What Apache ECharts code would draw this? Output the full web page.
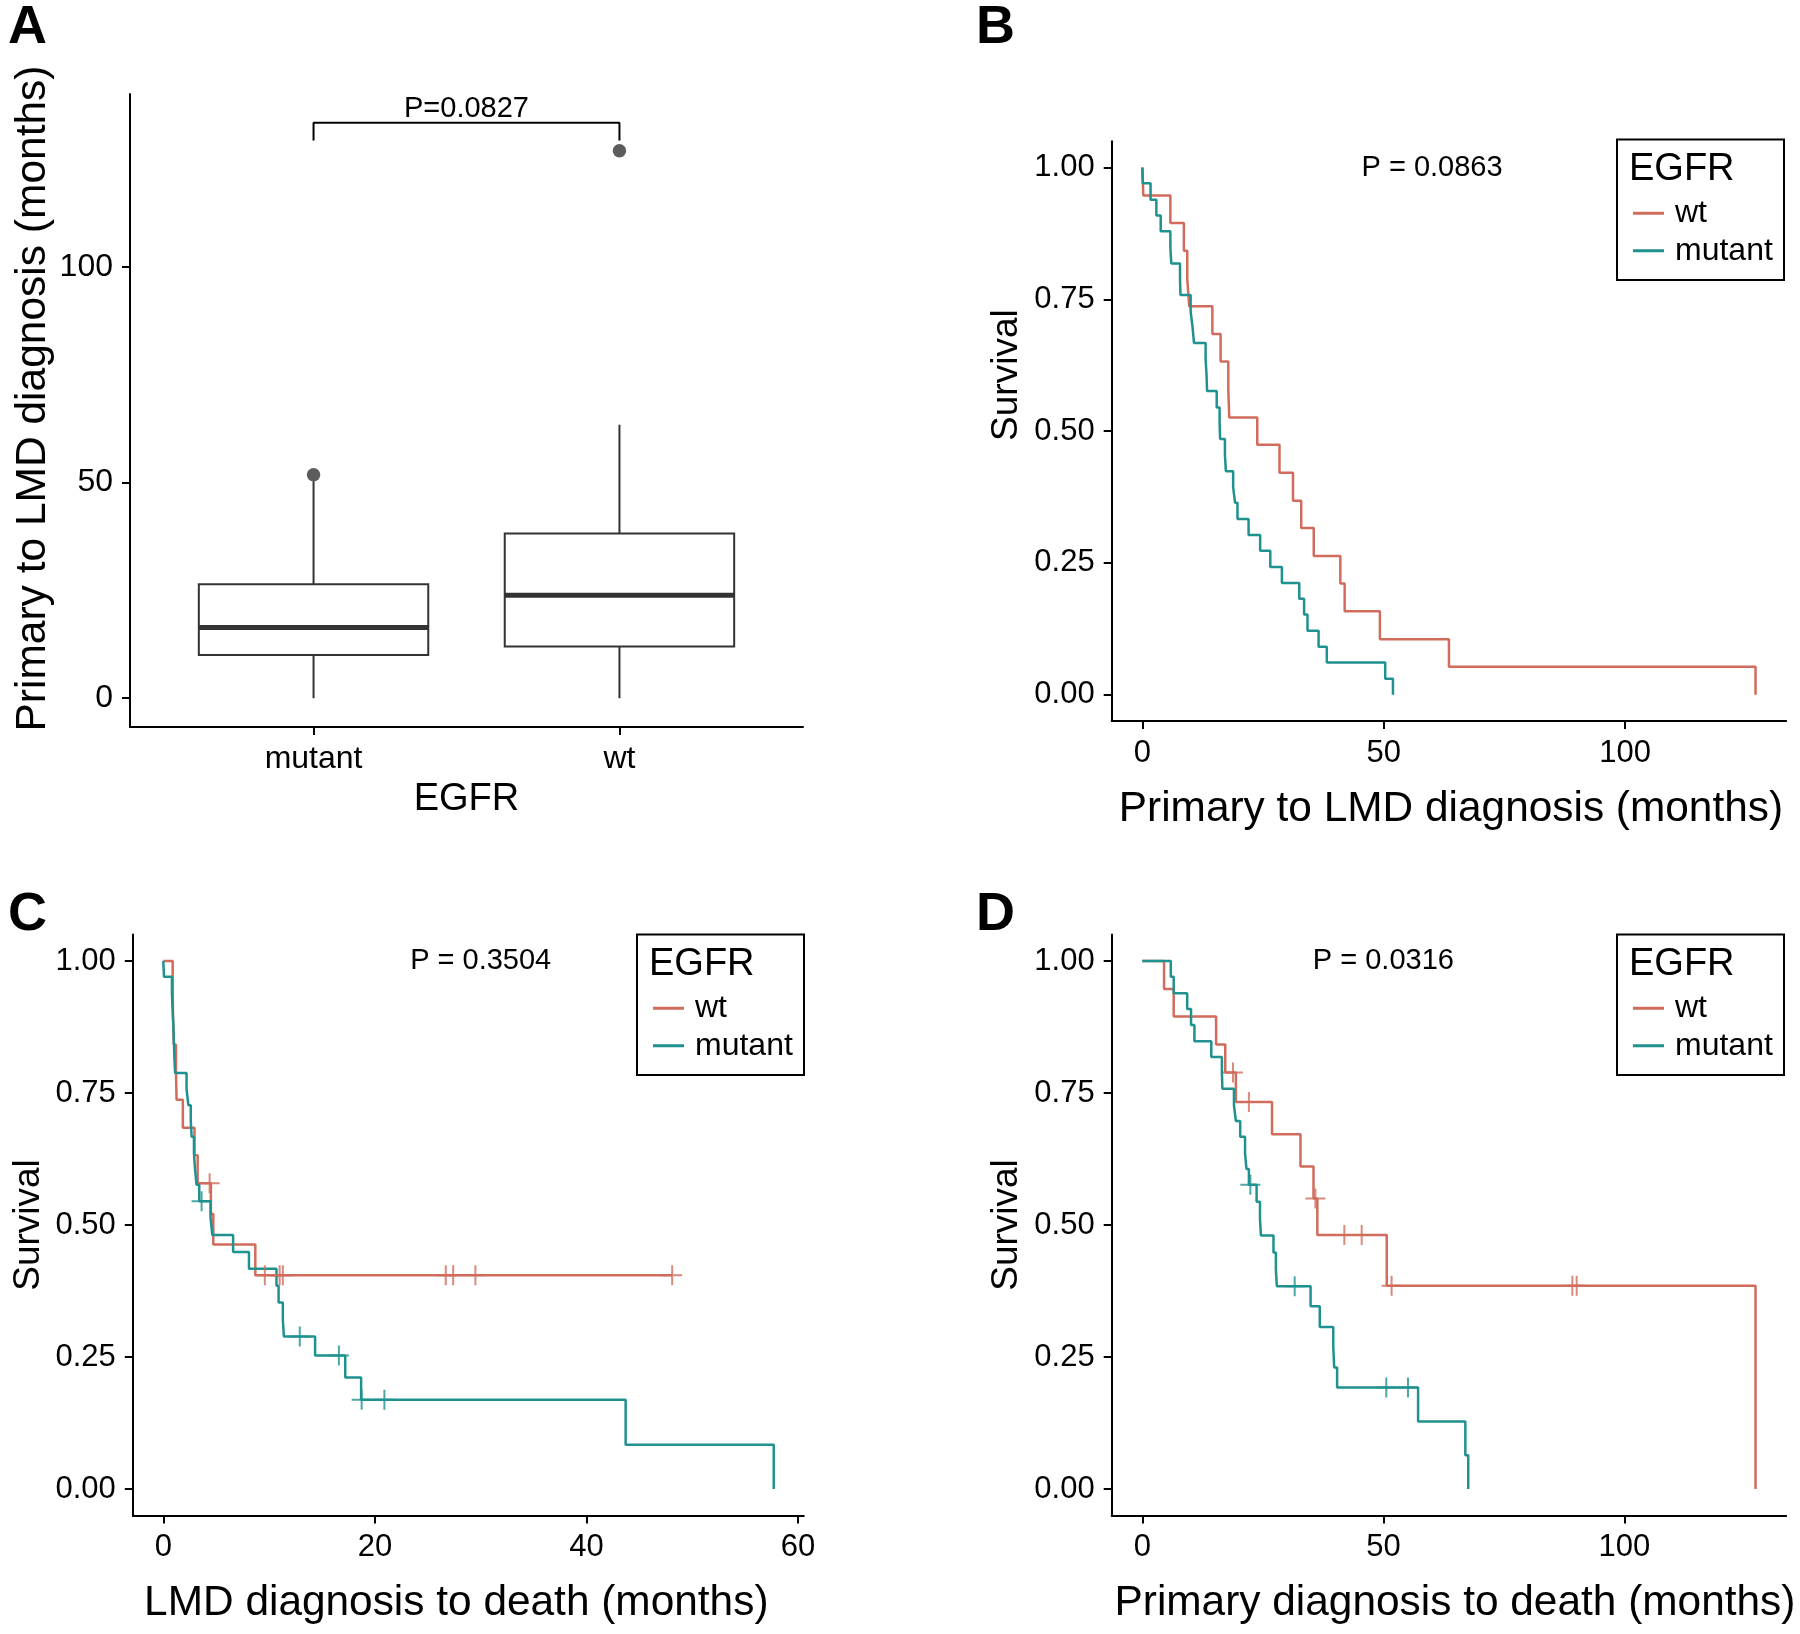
<!DOCTYPE html>
<html>
<head>
<meta charset="utf-8">
<script src="https://cdn.jsdelivr.net/npm/echarts@6/dist/echarts.min.js"></script>
<style>
html,body{margin:0;padding:0;background:#ffffff;}
#chart{width:1800px;height:1634px;}
</style>
</head>
<body>
<div id="chart"></div>
<script>
// ---------------- Panel A: box plot ----------------
const boxCategories = ['mutant', 'wt'];
const boxLowerWhisker = [0, 0];
const boxQ1 = [10.0, 12.0];
const boxMedian = [16.4, 23.9];
const boxQ3 = [26.4, 38.2];
const boxUpperWhisker = [50.3, 63.4];
const outlierCategory = [1, 2];
const outlierValue = [51.8, 126.9];
const bracketLegLow = 129.3;
const bracketTop = 133.4;
const pTextA = 'P=0.0827';
const pPosA = [1.5, 136.7];
const yTicksA = [0, 50, 100];

// ---------------- Panel B: primary to LMD ----------------
const bWtTime = [0, 0.2, 5.8, 8.6, 9.3, 9.7, 14.5, 16.2, 17.8, 18.0, 23.8, 28.4, 31.2, 32.9, 35.5, 41.0, 41.9, 49.2, 63.5, 127.0];
const bWtSurv = [1, 0.947, 0.895, 0.842, 0.789, 0.737, 0.684, 0.632, 0.579, 0.526, 0.474, 0.421, 0.368, 0.316, 0.263, 0.211, 0.158, 0.105, 0.053, 0];
const bMutTime = [0, 0.1, 1.7, 2.9, 3.8, 5.8, 6.0, 7.8, 7.9, 10.0, 10.4, 10.7, 13.1, 13.3, 13.4, 15.4, 16.0, 16.1, 17.1, 17.3, 18.8, 19.2, 19.7, 22.0, 24.4, 26.5, 28.9, 32.5, 33.5, 34.2, 36.5, 38.2, 50.3, 51.9];
const bMutSurv = [1, 0.970, 0.939, 0.909, 0.879, 0.848, 0.818, 0.788, 0.758, 0.727, 0.697, 0.667, 0.636, 0.606, 0.576, 0.545, 0.515, 0.485, 0.455, 0.424, 0.394, 0.364, 0.333, 0.303, 0.273, 0.242, 0.212, 0.182, 0.152, 0.121, 0.091, 0.061, 0.030, 0];
const pTextB = 'P = 0.0863';
const pPosB = [60, 1.0];

// ---------------- Panel C: LMD to death ----------------
const cWtTime = [0, 0.89, 0.92, 1.0, 1.2, 1.26, 1.85, 2.95, 3.25, 4.5, 4.73, 8.7, 48.1];
const cWtSurv = [1, 0.947, 0.895, 0.842, 0.789, 0.737, 0.684, 0.632, 0.579, 0.521, 0.463, 0.405, 0.405];
const cWtCensorTime = [4.38, 9.6, 11.0, 11.3, 26.7, 27.4, 29.5, 48.1];
const cWtCensorSurv = [0.579, 0.405, 0.405, 0.405, 0.405, 0.405, 0.405, 0.405];
const cMutTime = [0, 0.07, 0.82, 0.88, 0.95, 1.0, 1.05, 1.12, 2.2, 2.37, 2.6, 2.68, 2.9, 3.0, 3.15, 3.4, 4.47, 4.64, 6.6, 8.1, 10.7, 10.9, 11.3, 11.4, 14.35, 17.2, 18.7, 43.7, 57.7];
const cMutSurv = [1, 0.970, 0.939, 0.909, 0.879, 0.848, 0.818, 0.788, 0.758, 0.727, 0.697, 0.667, 0.636, 0.606, 0.576, 0.545, 0.513, 0.481, 0.449, 0.417, 0.385, 0.353, 0.321, 0.289, 0.253, 0.211, 0.169, 0.084, 0];
const cMutCensorTime = [3.62, 12.9, 16.6, 18.75, 20.9];
const cMutCensorSurv = [0.545, 0.289, 0.253, 0.169, 0.169];
const pTextC = 'P = 0.3504';
const pPosC = [30, 1.0];

// ---------------- Panel D: primary to death ----------------
const dWtTime = [0, 4.5, 6.5, 15.3, 17.2, 19.4, 26.9, 32.8, 35.5, 36.3, 50.7, 127.2];
const dWtSurv = [1, 0.947, 0.895, 0.842, 0.789, 0.733, 0.672, 0.611, 0.550, 0.481, 0.385, 0];
const dWtCensorTime = [18.8, 22.1, 35.9, 41.9, 45.5, 51.7, 89.2, 90.1];
const dWtCensorSurv = [0.789, 0.733, 0.550, 0.481, 0.481, 0.385, 0.385, 0.385];
const dMutTime = [0, 5.9, 6.5, 9.3, 10.1, 10.8, 14.3, 16.5, 16.6, 19.0, 19.4, 20.3, 21.3, 21.6, 22.1, 23.7, 24.4, 24.6, 27.2, 27.7, 27.9, 34.9, 36.8, 39.6, 39.8, 40.4, 57.2, 67.0, 67.6];
const dMutSurv = [1, 0.970, 0.939, 0.909, 0.879, 0.848, 0.818, 0.788, 0.758, 0.727, 0.697, 0.667, 0.636, 0.606, 0.576, 0.544, 0.512, 0.480, 0.448, 0.416, 0.384, 0.346, 0.307, 0.269, 0.230, 0.192, 0.128, 0.064, 0];
const dMutCensorTime = [22.4, 31.6, 50.6, 55.1];
const dMutCensorSurv = [0.576, 0.384, 0.192, 0.192];
const pTextD = 'P = 0.0316';
const pPosD = [50, 1.0];

const survTicks = [0, 0.25, 0.5, 0.75, 1];
const xTicksLong = [0, 50, 100];
const xTicksC = [0, 20, 40, 60];
const groupNames = ['wt', 'mutant'];
const legendTitle = 'EGFR';

// ---------------- styling ----------------
const FONT = '"Liberation Sans", Arial, Helvetica, sans-serif';
const RED = '#D16C5C';
const TEAL = '#1F918F';
const BOXC = '#333333';
const PLUS = 'path://M9,0h2v9h9v2h-9v9h-2v-9h-9v-2h9z';

function pairs(xs, ys) { return xs.map((x, i) => [x, ys[i]]); }

function axisBase(extra) {
  return Object.assign({
    type: 'value',
    splitLine: { show: false },
    axisLine: { show: true, onZero: false, lineStyle: { color: '#000', width: 2 } }
  }, extra);
}
function xAx(grid, min, max, ticks, name, nameSize, nameGap, labelSize, margin, namePad, fmt) {
  const a = axisBase({ gridIndex: grid, min: min, max: max, name: name, nameLocation: 'middle', nameGap: nameGap });
  a.nameTextStyle = { color: '#000', fontFamily: FONT, fontSize: nameSize, padding: namePad || 0 };
  a.axisTick = { show: true, length: 8, customValues: ticks, lineStyle: { color: '#000', width: 2 } };
  a.axisLabel = { customValues: ticks, fontSize: labelSize, color: '#000', fontFamily: FONT, margin: margin };
  if (fmt) a.axisLabel.formatter = fmt;
  return a;
}
function yAx(grid, min, max, ticks, name, nameSize, nameGap, labelSize, fmt, shift) {
  const a = axisBase({ gridIndex: grid, min: min, max: max, name: name, nameLocation: 'middle', nameGap: nameGap });
  a.nameTextStyle = { color: '#000', fontFamily: FONT, fontSize: nameSize, padding: [0, 0, 0, shift || 0] };
  a.axisTick = { show: true, length: 8, customValues: ticks, lineStyle: { color: '#000', width: 2 } };
  a.axisLabel = { customValues: ticks, fontSize: labelSize, color: '#000', fontFamily: FONT, margin: 17 };
  if (fmt) a.axisLabel.formatter = fmt;
  return a;
}
const survFmt = v => v.toFixed(2);

function kmLine(idx, name, color, xs, ys) {
  return {
    type: 'line', name: name, xAxisIndex: idx, yAxisIndex: idx,
    data: pairs(xs, ys), step: 'end', symbol: 'none', showSymbol: false,
    lineStyle: { color: color, width: 2.5 }, itemStyle: { color: color },
    silent: true, z: 3
  };
}
function censor(idx, name, color, xs, ys) {
  return {
    type: 'scatter', name: name, xAxisIndex: idx, yAxisIndex: idx,
    data: pairs(xs, ys), symbol: PLUS, symbolSize: 20,
    itemStyle: { color: color }, silent: true, z: 4
  };
}

const boxData = boxCategories.map((c, i) => [i + 1, boxLowerWhisker[i], boxQ1[i], boxMedian[i], boxQ3[i], boxUpperWhisker[i]]);

const boxSeries = {
  type: 'custom', xAxisIndex: 0, yAxisIndex: 0,
  dimensions: ['x', 'lo', 'q1', 'med', 'q3', 'hi'],
  encode: { x: 0, y: [1, 2, 3, 4, 5] },
  data: boxData,
  renderItem: function (params, api) {
    const x = api.value(0);
    const lo = api.coord([x, api.value(1)]);
    const q1 = api.coord([x, api.value(2)]);
    const med = api.coord([x, api.value(3)]);
    const q3 = api.coord([x, api.value(4)]);
    const hi = api.coord([x, api.value(5)]);
    const half = api.size([0.75, 0])[0] / 2;
    const ls = { stroke: BOXC, lineWidth: 2, fill: null };
    return {
      type: 'group', children: [
        { type: 'line', shape: { x1: lo[0], y1: lo[1], x2: q1[0], y2: q1[1] }, style: ls },
        { type: 'line', shape: { x1: q3[0], y1: q3[1], x2: hi[0], y2: hi[1] }, style: ls },
        { type: 'rect', shape: { x: q3[0] - half, y: q3[1], width: 2 * half, height: q1[1] - q3[1] }, style: { fill: '#fff', stroke: BOXC, lineWidth: 2 } },
        { type: 'line', shape: { x1: med[0] - half, y1: med[1], x2: med[0] + half, y2: med[1] }, style: { stroke: BOXC, lineWidth: 5 } }
      ]
    };
  },
  silent: true, z: 2
};

const outlierSeries = {
  type: 'scatter', xAxisIndex: 0, yAxisIndex: 0,
  data: pairs(outlierCategory, outlierValue),
  symbol: 'circle', symbolSize: 13.5, itemStyle: { color: BOXC }, silent: true, z: 3
};
const bracketSeries = {
  type: 'line', xAxisIndex: 0, yAxisIndex: 0,
  data: [[1, bracketLegLow], [1, bracketTop], [2, bracketTop], [2, bracketLegLow]],
  symbol: 'none', lineStyle: { color: '#000', width: 2 }, silent: true, z: 3
};

function legendFor(left, top) {
  return {
    left: left, top: top, orient: 'vertical', data: groupNames,
    icon: 'rect', itemWidth: 31, itemHeight: 3, itemGap: 0, padding: 0,
    selectedMode: false,
    textStyle: { fontSize: 32, color: '#000', fontFamily: FONT, lineHeight: 37.5, padding: [0, 0, 0, 6] }
  };
}
function legendBox(x, y) {
  return [
    { type: 'rect', shape: { x: x, y: y, width: 167, height: 140.5 }, style: { fill: 'none', stroke: '#000', lineWidth: 2 }, z: 10 },
    { type: 'text', x: x + 12, y: y + 30.5, style: { text: legendTitle, fontSize: 38, fontFamily: FONT, fill: '#000', align: 'left', verticalAlign: 'middle' }, z: 10 }
  ];
}
function panelLetter(txt, x, y) {
  return { type: 'text', x: x, y: y, style: { text: txt, fontSize: 54, fontWeight: 'bold', fontFamily: FONT, fill: '#000', align: 'left', verticalAlign: 'middle' }, z: 10 };
}

const option = {
  animation: false,
  backgroundColor: '#ffffff',
  textStyle: { fontFamily: FONT },
  grid: [
    { left: 130, top: 94, width: 673, height: 633, outerBoundsMode: 'none' },
    { left: 1111.7, top: 141.2, width: 674.5, height: 579.8, outerBoundsMode: 'none' },
    { left: 132.8, top: 934.6, width: 671, height: 580.8, outerBoundsMode: 'none' },
    { left: 1111.7, top: 934.6, width: 674.5, height: 580.8, outerBoundsMode: 'none' }
  ],
  xAxis: [
    xAx(0, 0.4, 2.6, [1, 2], 'EGFR', 38, 54, 32, 16, 0, v => boxCategories[Math.round(v) - 1]),
    xAx(1, -6.35, 133.35, xTicksLong, 'Primary to LMD diagnosis (months)', 42.4, 67, 31, 17, [0, 0, 0, 4]),
    xAx(2, -2.88, 60.54, xTicksC, 'LMD diagnosis to death (months)', 42.4, 67, 31, 17, [0, 24, 0, 0]),
    xAx(3, -6.36, 133.56, xTicksLong, 'Primary diagnosis to death (months)', 42.4, 67, 31, 17, [0, 0, 0, 12])
  ],
  yAxis: [
    yAx(0, -6.67, 140.07, yTicksA, 'Primary to LMD diagnosis (months)', 42.5, 75, 32, null, 24),
    yAx(1, -0.05, 1.05, survTicks, 'Survival', 37, 86, 31, survFmt, 112),
    yAx(2, -0.05, 1.05, survTicks, 'Survival', 37, 86, 31, survFmt, 0),
    yAx(3, -0.05, 1.05, survTicks, 'Survival', 37, 86, 31, survFmt, 0)
  ],
  legend: [
    legendFor(1633, 194.5),
    legendFor(653, 989.5),
    legendFor(1633, 989.5)
  ],
  series: [
    boxSeries, outlierSeries, bracketSeries,
    kmLine(1, 'wt', RED, bWtTime, bWtSurv),
    kmLine(1, 'mutant', TEAL, bMutTime, bMutSurv),
    kmLine(2, 'wt', RED, cWtTime, cWtSurv),
    kmLine(2, 'mutant', TEAL, cMutTime, cMutSurv),
    censor(2, 'wt', RED, cWtCensorTime, cWtCensorSurv),
    censor(2, 'mutant', TEAL, cMutCensorTime, cMutCensorSurv),
    kmLine(3, 'wt', RED, dWtTime, dWtSurv),
    kmLine(3, 'mutant', TEAL, dMutTime, dMutSurv),
    censor(3, 'wt', RED, dWtCensorTime, dWtCensorSurv),
    censor(3, 'mutant', TEAL, dMutCensorTime, dMutCensorSurv)
  ]
};

const chart = echarts.init(document.getElementById('chart'), null, { renderer: 'canvas', width: 1800, height: 1634 });
chart.setOption(option);

// P-value annotations, placed through each grid's own scales
const pNotes = [
  { grid: 0, pos: pPosA, text: pTextA },
  { grid: 1, pos: pPosB, text: pTextB },
  { grid: 2, pos: pPosC, text: pTextC },
  { grid: 3, pos: pPosD, text: pTextD }
];
const pGraphics = pNotes.map(n => {
  const px = chart.convertToPixel({ gridIndex: n.grid }, n.pos);
  return { type: 'text', x: px[0], y: px[1], style: { text: n.text, fontSize: 29, fontFamily: FONT, fill: '#000', align: 'center', verticalAlign: 'middle' }, z: 10 };
});

chart.setOption({
  graphic: [
    panelLetter('A', 8, 28.5),
    panelLetter('B', 976, 28.5),
    panelLetter('C', 8, 915.5),
    panelLetter('D', 976, 915.5)
  ].concat(legendBox(1617, 139.5), legendBox(637, 934.5), legendBox(1617, 934.5), pGraphics)
});
</script>
</body>
</html>
